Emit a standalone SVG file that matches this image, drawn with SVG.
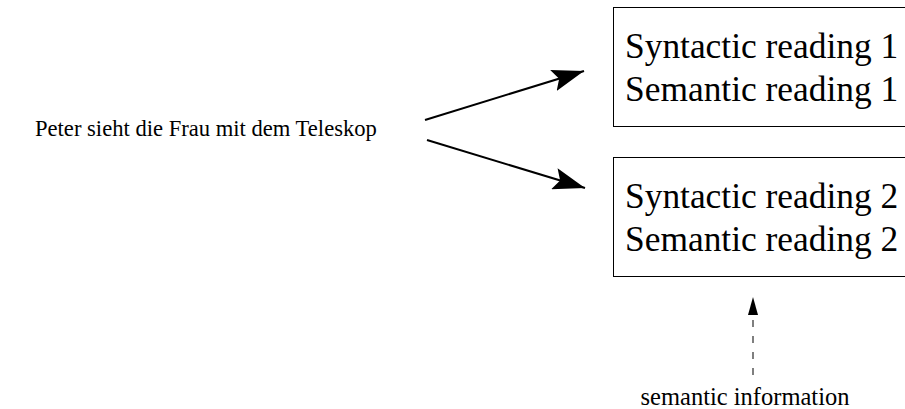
<svg xmlns="http://www.w3.org/2000/svg" width="905" height="409" viewBox="0 0 905 409">
<style>
text{font-family:"Liberation Serif","Times New Roman",serif;fill:#000}
.big{font-size:35.4px}
.box{fill:#fff;stroke:#000;stroke-width:1}
.conn{stroke:#000;stroke-width:2;fill:none}
.dash{stroke:#555;stroke-width:1.5;stroke-dasharray:7 9;fill:none}
</style>
<defs>
<marker id="ah" markerUnits="userSpaceOnUse" markerWidth="32" markerHeight="22" refX="32" refY="11" orient="auto">
<path d="M0,0 L32,11 L0,22 L6,11 Z" fill="#000"/>
</marker>
<marker id="ah2" markerUnits="userSpaceOnUse" markerWidth="18" markerHeight="10" refX="18" refY="5" orient="auto">
<path d="M0,0 L18,5 L0,10 Z" fill="#000"/>
</marker>
</defs>
<g id="connectors">
<line class="conn" x1="425" y1="120" x2="584" y2="71" marker-end="url(#ah)"/>
<line class="conn" x1="427" y1="140" x2="585" y2="188" marker-end="url(#ah)"/>
<line class="dash" x1="753" y1="375" x2="753" y2="297" marker-end="url(#ah2)"/>
</g>
<g id="sentence">
<text x="35" y="136" font-size="22.6">Peter sieht die Frau mit dem Teleskop</text>
</g>
<g id="reading1">
<rect class="box" x="613.5" y="7.5" width="300" height="119"/>
<text class="big" x="625" y="58">Syntactic reading 1</text>
<text class="big" x="625" y="101">Semantic reading 1</text>
</g>
<g id="reading2">
<rect class="box" x="613.5" y="157.5" width="300" height="119"/>
<text class="big" x="625" y="208">Syntactic reading 2</text>
<text class="big" x="625" y="251">Semantic reading 2</text>
</g>
<g id="semantic-info">
<text x="745" y="405" font-size="24.5" text-anchor="middle">semantic information</text>
</g>
</svg>
